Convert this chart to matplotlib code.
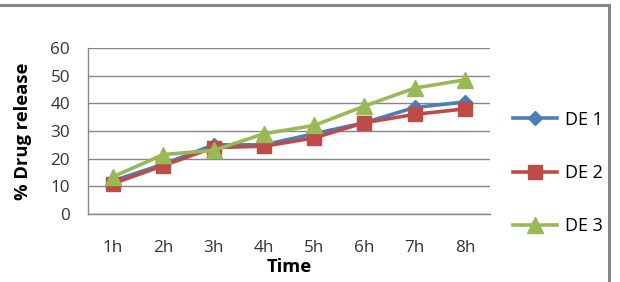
import matplotlib
matplotlib.use("Agg")
import matplotlib.pyplot as plt
from matplotlib.lines import Line2D

# data
hours = ["1h", "2h", "3h", "4h", "5h", "6h", "7h", "8h"]
de1 = [12, 18, 25, 25, 29, 33, 38.5, 40.5]
de2 = [11, 17.5, 24, 24.5, 27.5, 33, 36, 38]
de3 = [13.5, 21.5, 23, 29, 32, 39, 45.5, 48.5]
series_names = ["DE 1", "DE 2", "DE 3"]
yticks = [0, 10, 20, 30, 40, 50, 60]

plt.rcParams['font.family'] = ['Open Sans', 'DejaVu Sans']

W, H = 620, 282
fig = plt.figure(figsize=(W / 100, H / 100), dpi=100)
ax = fig.add_axes([88 / W, 1 - 214 / H, (490 - 88) / W, (214 - 48) / H])

x = list(range(len(hours)))
styles = [
    ("#4A7EBB", "D", 7.5),
    ("#BE4B48", "s", 10),
    ("#98B954", "^", 11),
]
for data, name, (col, mk, ms) in zip([de1, de2, de3], series_names, styles):
    ax.plot(x, data, color=col, lw=2.6, marker=mk, markersize=ms,
            markerfacecolor=col, markeredgecolor=col, label=name, zorder=3)

ax.set_xlim(-0.5, len(hours) - 0.5)
ax.set_ylim(0, 60)
ax.set_yticks(yticks)
ax.set_xticks(x)
ax.set_xticklabels(hours)
ax.yaxis.grid(True, color="#868686", lw=1)
ax.set_axisbelow(True)
for s in ["top", "right"]:
    ax.spines[s].set_visible(False)
for s in ["left", "bottom"]:
    ax.spines[s].set_color("#868686")
    ax.spines[s].set_linewidth(1)
ax.tick_params(axis="both", length=0, labelsize=12.3, colors="#333333")
ax.tick_params(axis="y", pad=13)
ax.tick_params(axis="x", pad=19)

ax.set_ylabel("% Drug release", fontsize=13.2, fontweight="bold", labelpad=13)
ax.set_xlabel("Time", fontsize=13.2, fontweight="bold", labelpad=1)

handles, labels = ax.get_legend_handles_labels()
leg = fig.legend(handles, labels, loc="center left",
                 bbox_to_anchor=(513 / W, 1 - 173 / H), frameon=False,
                 borderpad=0, borderaxespad=0,
                 fontsize=13, labelspacing=1.95, handlelength=2.45,
                 handletextpad=0.45)

# outer chart frame (only top and right edges visible)
fig.add_artist(Line2D([0, 609 / W], [1 - 5 / H, 1 - 5 / H], color="#868686", lw=2.2,
                      transform=fig.transFigure))
fig.add_artist(Line2D([609 / W, 609 / W], [1 - 5 / H, 0], color="#868686", lw=2.2,
                      transform=fig.transFigure))

fig.savefig("out.png", dpi=100)
